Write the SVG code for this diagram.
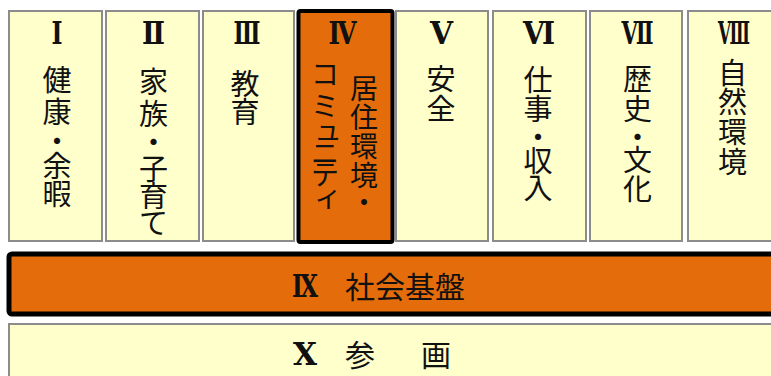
<svg xmlns="http://www.w3.org/2000/svg" width="771" height="376" viewBox="0 0 771 376">
<style>
.box{fill:#FFFFCC;stroke:#8C8C8C;stroke-width:2}
.hot{fill:#E46C0A;stroke:#000;stroke-width:4}
.num{font-family:"DejaVu Serif","Liberation Serif",serif;font-weight:bold;font-size:32px;fill:#111;text-anchor:middle}
.jp{font-family:"Noto Sans CJK JP","Noto Sans CJK SC",sans-serif;font-size:29px;fill:#111;text-anchor:middle}
.jp28{font-size:28px}
</style>
<rect x="0" y="0" width="771" height="376" fill="#FFFFFF"/>
<g id="node-1">
<rect class="box" x="9" y="11" width="93" height="230"/>
<text class="num" x="57" y="44" textLength="11" lengthAdjust="spacingAndGlyphs">Ⅰ</text>
<text class="jp"><tspan x="57" y="91">健</tspan><tspan x="57" y="123">康</tspan><tspan x="57" y="152">・</tspan><tspan x="57" y="177">余</tspan><tspan x="57" y="205">暇</tspan></text>
</g>
<g id="node-2">
<rect class="box" x="106" y="11" width="93" height="230"/>
<text class="num" x="153.5" y="44" textLength="23" lengthAdjust="spacingAndGlyphs">Ⅱ</text>
<text class="jp"><tspan x="153.5" y="93">家</tspan><tspan x="153.5" y="125">族</tspan><tspan x="153.5" y="153">・</tspan><tspan x="153.5" y="180">子</tspan><tspan x="153.5" y="207">育</tspan><tspan x="153.5" y="234">て</tspan></text>
</g>
<g id="node-3">
<rect class="box" x="203" y="11" width="91" height="230"/>
<text class="num" x="247" y="44" textLength="27" lengthAdjust="spacingAndGlyphs">Ⅲ</text>
<text class="jp"><tspan x="245" y="95">教</tspan><tspan x="245" y="123">育</tspan></text>
</g>
<g id="node-4">
<rect class="hot" x="298.5" y="11" width="94" height="231" rx="2"/>
<text class="num" x="342.5" y="44" textLength="28" lengthAdjust="spacingAndGlyphs">Ⅳ</text>
<text class="jp jp28"><tspan x="364" y="99">居</tspan><tspan x="364" y="128">住</tspan><tspan x="364" y="157">環</tspan><tspan x="364" y="186">境</tspan><tspan x="364" y="213">・</tspan></text>
<text class="jp jp28"><tspan x="325" y="85">コ</tspan><tspan x="325" y="117">ミ</tspan><tspan x="328" y="140">ュ</tspan><tspan x="325" y="164">ニ</tspan><tspan x="325" y="185">テ</tspan><tspan x="328" y="207">ィ</tspan></text>
</g>
<g id="node-5">
<rect class="box" x="396" y="11" width="92" height="230"/>
<text class="num" x="441.5" y="44" textLength="23" lengthAdjust="spacingAndGlyphs">Ⅴ</text>
<text class="jp"><tspan x="441" y="90">安</tspan><tspan x="441" y="120">全</tspan></text>
</g>
<g id="node-6">
<rect class="box" x="493" y="11" width="93" height="230"/>
<text class="num" x="539" y="44" textLength="32" lengthAdjust="spacingAndGlyphs">Ⅵ</text>
<text class="jp"><tspan x="538" y="91">仕</tspan><tspan x="538" y="120">事</tspan><tspan x="538" y="148">・</tspan><tspan x="538" y="172">収</tspan><tspan x="538" y="199">入</tspan></text>
</g>
<g id="node-7">
<rect class="box" x="590" y="11" width="92" height="230"/>
<text class="num" x="637.5" y="44" textLength="32" lengthAdjust="spacingAndGlyphs">Ⅶ</text>
<text class="jp"><tspan x="637.5" y="90">歴</tspan><tspan x="637.5" y="120">史</tspan><tspan x="637.5" y="148">・</tspan><tspan x="637.5" y="171">文</tspan><tspan x="637.5" y="200">化</tspan></text>
</g>
<g id="node-8">
<rect class="box" x="688" y="11" width="92" height="230"/>
<text class="num" x="734" y="44" textLength="32" lengthAdjust="spacingAndGlyphs">Ⅷ</text>
<text class="jp"><tspan x="732.5" y="84">自</tspan><tspan x="732.5" y="113">然</tspan><tspan x="732.5" y="143">環</tspan><tspan x="732.5" y="173">境</tspan></text>
</g>
<g id="node-9">
<rect x="9" y="254" width="790" height="60" rx="3" fill="#E46C0A" stroke="#000" stroke-width="5"/>
<text class="jp" style="font-size:30px;text-anchor:start"><tspan class="num" style="text-anchor:start" x="292" y="297" textLength="26" lengthAdjust="spacingAndGlyphs">Ⅸ</tspan><tspan x="345" y="297.5">社会基盤</tspan></text>
</g>
<g id="node-10">
<rect class="box" x="9" y="324" width="790" height="70"/>
<text class="jp" style="font-size:30px;text-anchor:start"><tspan class="num" style="text-anchor:start" x="293" y="365" textLength="24" lengthAdjust="spacingAndGlyphs">Ⅹ</tspan><tspan x="345" y="365.5">参</tspan><tspan x="421" y="365.5">画</tspan></text>
</g>
<g id="connectors"></g>
</svg>
